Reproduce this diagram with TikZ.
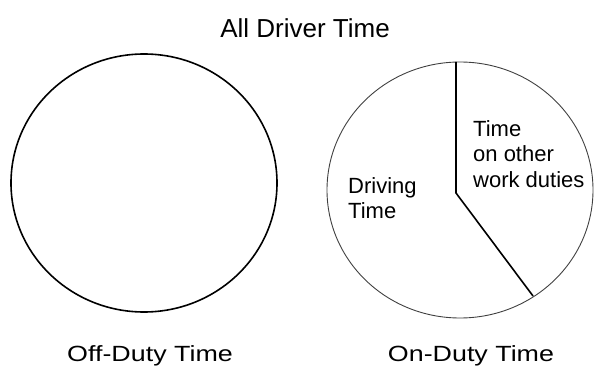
\documentclass[tikz,border=0pt]{standalone}
\usepackage{fontspec}
\setmainfont{Liberation Sans}

\begin{document}
\begin{tikzpicture}[
    x=1pt, y=-1pt,
    title node/.style={inner sep=0pt, font=\fontsize{26}{30}\selectfont},
    cap node/.style={inner sep=0pt, font=\fontsize{22}{26}\selectfont},
    part node/.style={inner sep=0pt, align=left, anchor=west, font=\fontsize{22}{25.5}\selectfont},
    off pie/.style={line width=1.6pt, draw=black},
    on pie/.style={line width=0.9pt, draw=black!75},
    cut edge/.style={line width=1.6pt, draw=black}
]
\useasboundingbox (0,0) rectangle (611,366);

% titel
\node[title node] (Ttl) at (305, 28) {All Driver Time};

% die zwei kreise
\draw[off pie] (144, 183) ellipse (133 and 129);
\draw[on pie]  (460, 190) ellipse (133 and 128);

% trennlinie im rechten kreis
\coordinate (Top) at (456, 62);
\coordinate (Knk) at (456, 193);
\coordinate (Bot) at (533, 296);
\draw[cut edge] (Top) -- (Knk) -- (Bot);

% beschriftungen
\node[part node] (Drv) at (348, 198) {Driving\\Time};
\node[part node] (Oth) at (473, 154) {Time\\on other\\work duties};

\node[cap node] (Off) at (150, 356) {\scalebox{1.22}[1]{Off-Duty Time}};
\node[cap node] (On)  at (471, 356) {\scalebox{1.22}[1]{On-Duty Time}};

\end{tikzpicture}
\end{document}
